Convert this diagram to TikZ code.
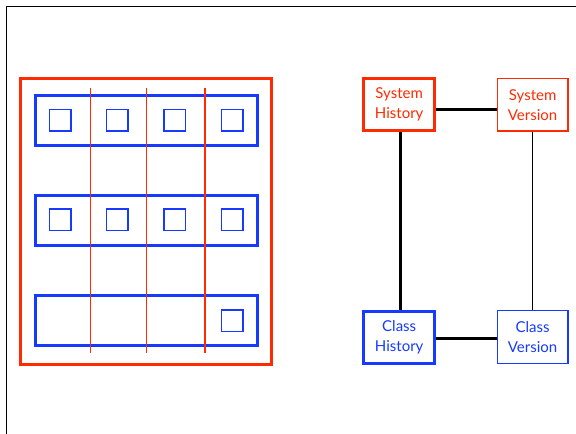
\documentclass[tikz,border=0pt]{standalone}
\usepackage{fontspec}
\setmainfont{Lato}
\usepackage{xcolor}
\usetikzlibrary{positioning}
\definecolor{hired}{RGB}{255,42,0}
\definecolor{hiblue}{RGB}{22,58,255}

\begin{document}
\begin{tikzpicture}[
  x=1pt, y=-1pt,
  font=\fontsize{15}{20}\selectfont,
  box/.style={draw, minimum width=70.5pt, minimum height=52.5pt, align=center, inner sep=1pt},
  strong/.style={line width=3pt},
  weak/.style={line width=1.3pt},
  link/.style={draw=black, line width=3pt},
  thinlink/.style={draw=black, line width=1.6pt},
  cell/.style={draw=hiblue, line width=1.3pt},
  row/.style={draw=hiblue, line width=3pt},
  split/.style={draw=hired, line width=1.1pt}
]
\useasboundingbox (0,0) rectangle (576,434);
% frame
\draw[line width=1.5pt] (6.5,434) -- (6.5,6.5) -- (576,6.5);

% left: history grid
\draw[draw=hired, line width=3pt] (20.5,78.5) rectangle (271.5,364.5);
\foreach \y in {95.5,195.5,295.5}
  \draw[row] (35,\y) rectangle (257,\y+50);
\foreach \x in {90.5,146.5,205}
  \draw[split] (\x,87.5) -- (\x,352.5);
\foreach \y in {109.5,209}
  \foreach \x in {49.5,106.5,164,221.5}
    \draw[cell] (\x,\y) rectangle +(21.5,21.5);
\draw[cell] (221.5,310) rectangle +(21.5,21.5);

% right: model
\node[box, strong, draw=hired, text=hired] (syshist) at (399.2,104.7) {System\\History};
\node[box, weak, draw=hired, text=hired, right=60.75pt of syshist] (sysver) {System\\Version};
\node[box, strong, draw=hiblue, text=hiblue, below=177.5pt of syshist] (clshist) {Class\\History};
\node[box, weak, draw=hiblue, text=hiblue, below=178.4pt of sysver] (clsver) {Class\\Version};
\draw[link] ([yshift=-4.6pt]syshist.east) -- ([yshift=-4.6pt]syshist.east -| sysver.west);
\draw[link] ([xshift=1.1pt]syshist.south) -- ([xshift=1.1pt]syshist.south |- clshist.north);
\draw[link] ([yshift=-1.25pt]clshist.east) -- ([yshift=-1.25pt]clshist.east -| clsver.west);
\draw[thinlink] (sysver) -- (clsver);
\end{tikzpicture}
\end{document}
